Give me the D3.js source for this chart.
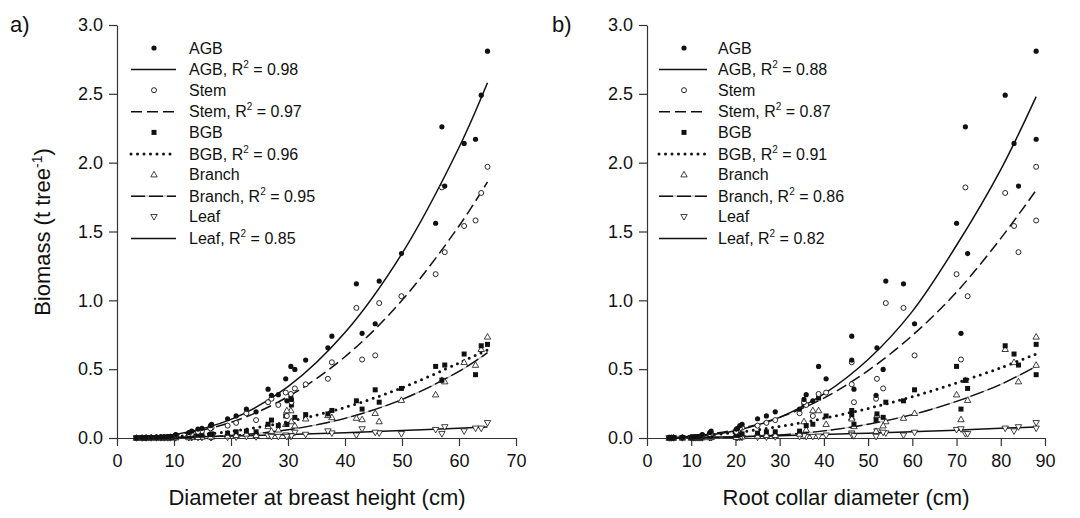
<!DOCTYPE html>
<html>
<head>
<meta charset="utf-8">
<script src="https://cdn.jsdelivr.net/npm/d3@7"></script>
<style>
  body { margin: 0; background: #fff; }
  text { font-family: "Liberation Sans", Arial, sans-serif; fill: #111; }
</style>
</head>
<body>
<div id="chart"></div>
<script>
// one entry per tree, same order in every array
const dbh    = [65.0, 63.9, 62.9, 60.9, 57.0, 57.5, 55.9, 49.9, 46.0, 42.0, 45.3, 43.0, 37.7, 37.0, 33.1, 30.5, 31.2, 29.6, 26.5, 27.1, 28.3, 30.6, 29.8, 22.7, 24.4, 20.9, 19.4, 16.6, 16.4, 14.9, 14.2, 13.1, 12.6, 10.3, 9.4, 8.9, 8.3, 7.7, 6.9, 6.0, 5.1, 4.4, 3.4];
const rcd    = [88.0, 81.0, 88.0, 83.0, 72.0, 84.0, 70.0, 72.5, 54.0, 58.0, 60.5, 71.0, 46.3, 52.0, 46.3, 38.8, 53.4, 40.5, 46.8, 51.8, 36.0, 35.5, 37.5, 34.5, 29.0, 27.0, 25.0, 21.5, 21.0, 20.5, 20.2, 14.5, 14.2, 12.5, 12.0, 11.5, 11.0, 10.5, 10.0, 8.0, 6.0, 5.5, 5.0];
const agb    = [2.81, 2.49, 2.17, 2.14, 2.26, 1.83, 1.56, 1.34, 1.14, 1.12, 0.83, 0.76, 0.74, 0.655, 0.566, 0.52, 0.498, 0.43, 0.355, 0.31, 0.315, 0.28, 0.27, 0.21, 0.19, 0.16, 0.14, 0.10, 0.09, 0.07, 0.065, 0.05, 0.04, 0.025, 0.012, 0.01, 0.009, 0.008, 0.006, 0.005, 0.004, 0.003, 0.002];
const stem   = [1.97, 1.78, 1.58, 1.54, 1.82, 1.35, 1.19, 1.03, 0.98, 0.945, 0.60, 0.57, 0.55, 0.43, 0.39, 0.32, 0.36, 0.33, 0.26, 0.285, 0.24, 0.26, 0.16, 0.18, 0.13, 0.11, 0.09, 0.075, 0.07, 0.05, 0.045, 0.03, 0.03, 0.02, 0.009, 0.008, 0.007, 0.006, 0.005, 0.004, 0.003, 0.002, 0.001];
const bgb    = [0.68, 0.67, 0.46, 0.61, 0.42, 0.53, 0.52, 0.36, 0.26, 0.27, 0.35, 0.21, 0.20, 0.175, 0.17, 0.29, 0.15, 0.16, 0.10, 0.13, 0.09, 0.24, 0.10, 0.05, 0.045, 0.045, 0.035, 0.03, 0.025, 0.02, 0.02, 0.015, 0.012, 0.008, 0.004, 0.003, 0.003, 0.002, 0.002, 0.002, 0.001, 0.001, 0.001];
const branch = [0.735, 0.645, 0.53, 0.55, 0.42, 0.41, 0.315, 0.275, 0.12, 0.145, 0.18, 0.135, 0.15, 0.165, 0.14, 0.20, 0.09, 0.10, 0.085, 0.05, 0.06, 0.12, 0.20, 0.03, 0.02, 0.02, 0.015, 0.01, 0.01, 0.008, 0.006, 0.005, 0.004, 0.003, 0.002, 0.001, 0.001, 0.001, 0.001, 0.001, 0.0005, 0.0005, 0.0003];
const leaf   = [0.11, 0.07, 0.07, 0.05, 0.03, 0.08, 0.06, 0.03, 0.035, 0.02, 0.04, 0.065, 0.035, 0.05, 0.025, 0.012, 0.04, 0.02, 0.015, 0.01, 0.01, 0.015, 0.01, 0.01, 0.008, 0.006, 0.005, 0.004, 0.004, 0.003, 0.003, 0.002, 0.002, 0.001, 0.001, 0.001, 0.001, 0.001, 0.0005, 0.0005, 0.0003, 0.0003, 0.0002];

// fitted curves, values at these diameters
const fitXA      = [3.5, 10, 20, 30, 40, 50, 60, 65];
const fitAgbA    = [0.002, 0.024, 0.135, 0.373, 0.766, 1.34, 2.11, 2.58];
const fitStemA   = [0.002, 0.022, 0.114, 0.30, 0.59, 1.0, 1.54, 1.86];
const fitBgbA    = [0.001, 0.0106, 0.0485, 0.119, 0.223, 0.365, 0.545, 0.64];
const fitBranchA = [0.0001, 0.0022, 0.018, 0.06, 0.143, 0.28, 0.484, 0.62];
const fitLeafA   = [0.001, 0.0048, 0.0137, 0.025, 0.0386, 0.054, 0.071, 0.08];

const fitXB      = [5, 10, 20, 30, 40, 50, 60, 70, 80, 88];
const fitAgbB    = [0.0014, 0.0087, 0.053, 0.15, 0.32, 0.57, 0.92, 1.40, 1.95, 2.48];
const fitStemB   = [0.0025, 0.012, 0.06, 0.15, 0.29, 0.49, 0.745, 1.06, 1.45, 1.80];
const fitBgbB    = [0.0031, 0.011, 0.040, 0.084, 0.143, 0.215, 0.30, 0.40, 0.51, 0.61];
const fitBranchB = [0.0001, 0.0009, 0.0069, 0.022, 0.052, 0.10, 0.17, 0.266, 0.39, 0.52];
const fitLeafB   = [0.0012, 0.0033, 0.0092, 0.0166, 0.025, 0.035, 0.046, 0.057, 0.07, 0.08];

const seriesNames = ["AGB", "Stem", "BGB", "Branch", "Leaf"];
const r2A = ["0.98", "0.97", "0.96", "0.95", "0.85"];
const r2B = ["0.88", "0.87", "0.91", "0.86", "0.82"];

const xTicksA = [0, 10, 20, 30, 40, 50, 60, 70];
const xTicksB = [0, 10, 20, 30, 40, 50, 60, 70, 80, 90];
const yTicks = [0, 0.5, 1.0, 1.5, 2.0, 2.5, 3.0];

const W = 1080, H = 518;
const svg = d3.select("#chart").append("svg")
    .attr("width", W)
    .attr("height", H);

const ink = "#111";

function drawMarker(g, name, cx, cy) {
    if (name === "AGB") {
        g.append("circle").attr("cx", cx).attr("cy", cy).attr("r", 2.6).attr("fill", ink);
    } else if (name === "Stem") {
        g.append("circle").attr("cx", cx).attr("cy", cy).attr("r", 2.5)
            .attr("fill", "#fff").attr("stroke", ink).attr("stroke-width", 0.9);
    } else if (name === "BGB") {
        g.append("rect").attr("x", cx - 2.5).attr("y", cy - 2.5).attr("width", 5).attr("height", 5).attr("fill", ink);
    } else if (name === "Branch") {
        g.append("path").attr("d", `M${cx},${cy - 3.3}L${cx + 3.2},${cy + 2.3}L${cx - 3.2},${cy + 2.3}Z`)
            .attr("fill", "#fff").attr("stroke", ink).attr("stroke-width", 0.8);
    } else {
        g.append("path").attr("d", `M${cx},${cy + 3.3}L${cx + 3.2},${cy - 2.3}L${cx - 3.2},${cy - 2.3}Z`)
            .attr("fill", "#fff").attr("stroke", ink).attr("stroke-width", 0.8);
    }
}

function drawStyledLine(g, name, d) {
    if (name === "Branch") {
        g.append("path").attr("d", d).attr("fill", "none")
            .attr("stroke", "#b8b8b8").attr("stroke-width", 1.2);
    }
    const p = g.append("path").attr("d", d).attr("fill", "none").attr("stroke", ink);
    if (name === "AGB" || name === "Leaf") {
        p.attr("stroke-width", 1.5);
    } else if (name === "Stem") {
        p.attr("stroke-width", 1.5).attr("stroke-dasharray", "11,5");
    } else if (name === "BGB") {
        p.attr("stroke-width", 3).attr("stroke-linecap", "round").attr("stroke-dasharray", "0,6.5");
    } else {
        p.attr("stroke-width", 1.4).attr("stroke-dasharray", "14,4");
    }
}

function drawPanel(opt) {
    const x = d3.scaleLinear().domain(opt.xDomain).range(opt.xRange);
    const y = d3.scaleLinear().domain([0, 3]).range([438, 25]);
    const g = svg.append("g");

    const xAxis = g.append("g")
        .attr("transform", `translate(0,${y(0)})`)
        .call(d3.axisBottom(x).tickValues(opt.xTicks).tickFormat(d3.format("d"))
            .tickSizeInner(8).tickSizeOuter(0).tickPadding(8));
    const yAxis = g.append("g")
        .attr("transform", `translate(${x(0)},0)`)
        .call(d3.axisLeft(y).tickValues(yTicks).tickFormat(d3.format(".1f"))
            .tickSizeInner(8).tickSizeOuter(0).tickPadding(6));
    [xAxis, yAxis].forEach(a => {
        a.selectAll("path, line").attr("stroke", "#333").attr("stroke-width", 1.2);
        a.selectAll("text").style("font-size", "18px").attr("fill", ink)
            .style("font-family", '"Liberation Sans", Arial, sans-serif');
    });

    // fitted curves
    const fits = [opt.fitAgb, opt.fitStem, opt.fitBgb, opt.fitBranch, opt.fitLeaf];
    const line = d3.line().x(d => x(d[0])).y(d => y(d[1])).curve(d3.curveCatmullRom.alpha(0.5));
    const curveG = g.append("g");
    seriesNames.forEach((name, i) => {
        const pts = opt.fitX.map((v, j) => [v, fits[i][j]]);
        drawStyledLine(curveG, name, line(pts));
    });

    // observed points
    const values = [agb, stem, bgb, branch, leaf];
    const ptG = g.append("g");
    [4, 3, 2, 1, 0].forEach(i => {
        opt.xs.forEach((xv, j) => drawMarker(ptG, seriesNames[i], x(xv), y(values[i][j])));
    });

    // legend
    const lg = g.append("g");
    seriesNames.forEach((name, i) => {
        const ySym = 48 + i * 2 * 21.1;
        const yLine = ySym + 21.6;
        drawMarker(lg, name, opt.legSym, ySym);
        lg.append("text").attr("x", opt.legText).attr("y", ySym + 5.5)
            .style("font-size", "16px").text(name);
        drawStyledLine(lg, name, `M${opt.legLine[0]},${yLine}L${opt.legLine[1]},${yLine}`);
        const t = lg.append("text").attr("x", opt.legText).attr("y", yLine + 5.5).style("font-size", "16px");
        t.append("tspan").text(name + ", R");
        t.append("tspan").attr("dy", -7).style("font-size", "10px").text("2");
        t.append("tspan").attr("dy", 7).text(" = " + opt.r2[i]);
    });

    // axis title and panel letter
    g.append("text").attr("x", opt.titleX).attr("y", 505)
        .attr("text-anchor", "middle").style("font-size", "22px").text(opt.title);
    g.append("text").attr("x", opt.letterX).attr("y", 32)
        .style("font-size", "22px").text(opt.letter);
}

drawPanel({
    xDomain: [0, 70], xRange: [117, 516], xTicks: xTicksA, xs: dbh,
    fitX: fitXA, fitAgb: fitAgbA, fitStem: fitStemA, fitBgb: fitBgbA, fitBranch: fitBranchA, fitLeaf: fitLeafA,
    r2: r2A, legSym: 154, legLine: [131, 176], legText: 189,
    title: "Diameter at breast height (cm)", titleX: 317, letter: "a)", letterX: 10
});

drawPanel({
    xDomain: [0, 90], xRange: [647, 1045], xTicks: xTicksB, xs: rcd,
    fitX: fitXB, fitAgb: fitAgbB, fitStem: fitStemB, fitBgb: fitBgbB, fitBranch: fitBranchB, fitLeaf: fitLeafB,
    r2: r2B, legSym: 684, legLine: [659, 707], legText: 718,
    title: "Root collar diameter (cm)", titleX: 846, letter: "b)", letterX: 552
});

// shared y title
const yt = svg.append("text")
    .attr("transform", "translate(50,232) rotate(-90)")
    .attr("text-anchor", "middle")
    .style("font-size", "22px");
yt.append("tspan").text("Biomass (t tree");
yt.append("tspan").attr("dy", -8).style("font-size", "14px").text("-1");
yt.append("tspan").attr("dy", 8).text(")");
</script>
</body>
</html>
